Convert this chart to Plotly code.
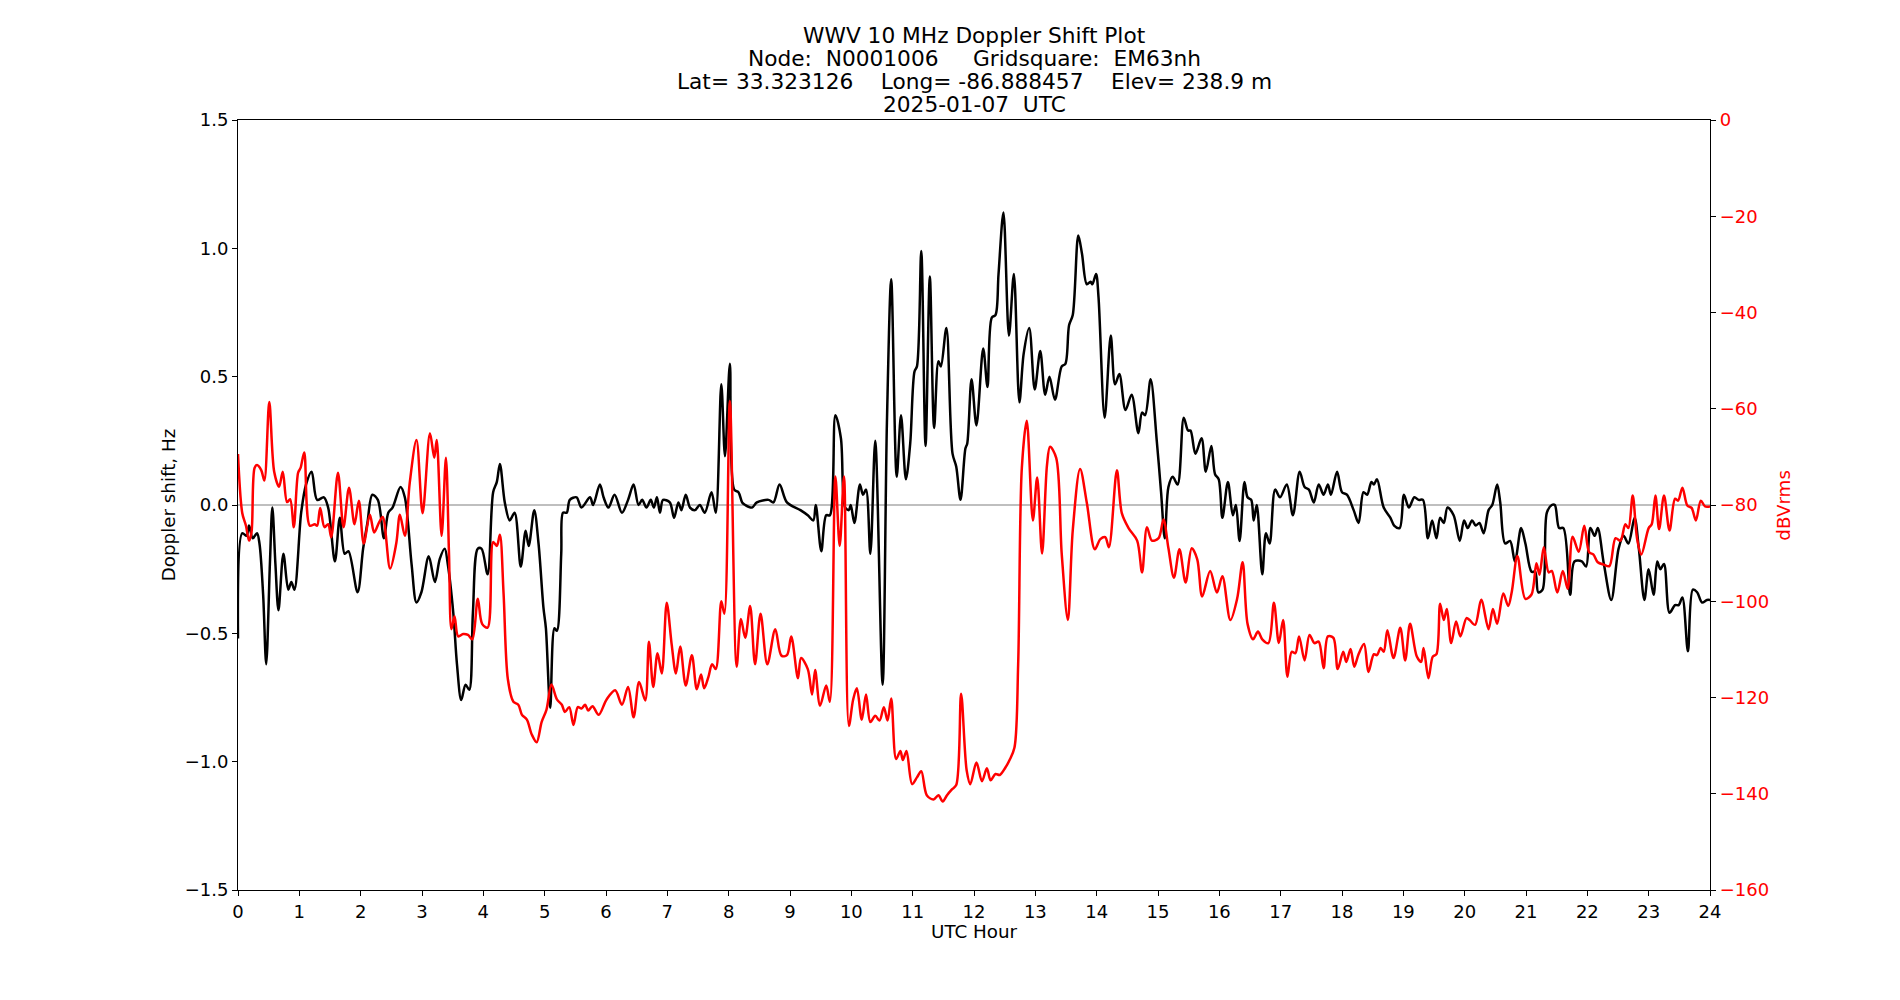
import plotly.graph_objects as go

# ---------------- data ----------------
doppler_hours = [
    0.00, 0.07, 0.14, 0.18, 0.24, 0.31, 0.35, 0.41, 0.46, 0.52, 0.56, 0.61, 0.66, 0.74, 0.82, 0.87, 0.92,
    1.03, 1.11, 1.20, 1.29, 1.40, 1.47, 1.58, 1.66, 1.74, 1.80, 1.95, 2.04, 2.11, 2.19, 2.28, 2.38, 2.45,
    2.52, 2.65, 2.72, 2.83, 2.91, 2.99, 3.11, 3.21, 3.29, 3.37, 3.42, 3.51, 3.57, 3.64, 3.71, 3.77, 3.83,
    3.91, 3.97, 4.07, 4.16, 4.22, 4.27, 4.35, 4.43, 4.51, 4.61, 4.69, 4.74, 4.83, 4.90, 4.98, 5.02, 5.09,
    5.16, 5.20, 5.27, 5.30, 5.36, 5.41, 5.52, 5.60, 5.74, 5.79, 5.90, 5.96, 6.04, 6.14, 6.26, 6.36, 6.45,
    6.53, 6.59, 6.66, 6.73, 6.78, 6.83, 6.88, 6.93, 7.04, 7.11, 7.18, 7.23, 7.30, 7.37, 7.45, 7.53, 7.61,
    7.72, 7.79, 7.88, 7.94, 8.02, 8.09, 8.16, 8.22, 8.27, 8.38, 8.46, 8.65, 8.73, 8.83, 8.95, 9.17, 9.29,
    9.38, 9.42, 9.51, 9.59, 9.65, 9.74, 9.83, 9.90, 9.96, 9.99, 10.05, 10.14, 10.19, 10.24, 10.31, 10.39,
    10.51, 10.58, 10.65, 10.74, 10.81, 10.89, 10.96, 11.03, 11.07, 11.14, 11.21, 11.28, 11.35, 11.42,
    11.46, 11.55, 11.65, 11.71, 11.78, 11.86, 11.89, 11.96, 12.04, 12.15, 12.22, 12.29, 12.35, 12.40,
    12.48, 12.57, 12.65, 12.74, 12.81, 12.90, 12.99, 13.08, 13.16, 13.23, 13.32, 13.43, 13.49, 13.55,
    13.61, 13.70, 13.76, 13.84, 13.90, 13.93, 13.99, 14.03, 14.13, 14.23, 14.30, 14.37, 14.47, 14.57,
    14.68, 14.74, 14.79, 14.88, 14.98, 15.05, 15.11, 15.17, 15.24, 15.32, 15.42, 15.49, 15.53, 15.61,
    15.71, 15.78, 15.87, 15.93, 15.99, 16.05, 16.14, 16.22, 16.27, 16.33, 16.41, 16.46, 16.52, 16.56,
    16.61, 16.70, 16.76, 16.82, 16.91, 16.99, 17.10, 17.20, 17.31, 17.39, 17.46, 17.54, 17.62, 17.70,
    17.77, 17.82, 17.92, 18.00, 18.08, 18.19, 18.27, 18.35, 18.41, 18.48, 18.52, 18.57, 18.68, 18.79,
    18.85, 18.94, 19.01, 19.09, 19.18, 19.25, 19.32, 19.40, 19.47, 19.54, 19.60, 19.66, 19.72, 19.82,
    19.92, 19.99, 20.05, 20.12, 20.18, 20.24, 20.31, 20.39, 20.45, 20.53, 20.58, 20.66, 20.74, 20.82,
    20.92, 20.99, 21.09, 21.15, 21.20, 21.27, 21.34, 21.42, 21.47, 21.54, 21.61, 21.72, 21.79, 21.91,
    21.98, 22.05, 22.12, 22.17, 22.27, 22.39, 22.51, 22.59, 22.67, 22.77, 22.84, 22.93, 23.00, 23.08,
    23.14, 23.19, 23.25, 23.34, 23.43, 23.49, 23.55, 23.64, 23.72, 23.79, 23.87, 23.95, 24.00,
]
doppler_hz = [
    -0.52, -0.11, -0.12, -0.08, -0.13, -0.11, -0.15, -0.35, -0.62, -0.23, -0.01, -0.23, -0.41, -0.19, -0.33, -0.30, -0.33,
    -0.03, 0.08, 0.13, 0.02, 0.03, -0.01, -0.22, -0.05, -0.19, -0.18, -0.34, -0.17, -0.07, 0.04, 0.02, -0.13, -0.03,
    -0.01, 0.07, 0.03, -0.23, -0.38, -0.34, -0.20, -0.30, -0.21, -0.17, -0.23, -0.42, -0.62, -0.76, -0.70, -0.72, -0.42,
    -0.17, -0.17, -0.27, 0.05, 0.09, 0.16, 0.01, -0.06, -0.03, -0.24, -0.10, -0.16, -0.02, -0.15, -0.40, -0.48, -0.79,
    -0.48, -0.49, -0.19, -0.03, -0.03, 0.02, 0.03, -0.01, 0.03, 0.00, 0.08, 0.03, -0.01, 0.04, -0.03, 0.02, 0.08,
    0.00, 0.02, -0.01, 0.02, -0.01, 0.03, -0.03, 0.02, 0.01, -0.05, 0.01, -0.02, 0.04, -0.01, -0.02, 0.00, -0.03,
    0.05, -0.03, 0.47, 0.19, 0.55, 0.06, 0.05, 0.01, 0.00, -0.01, 0.01, 0.02, 0.01, 0.08, 0.01, -0.02, -0.04,
    -0.06, 0.00, -0.18, -0.04, -0.04, 0.35, 0.26, -0.01, -0.02, 0.00, -0.07, 0.08, 0.04, 0.06, -0.19, 0.25,
    -0.70, 0.32, 0.88, 0.11, 0.35, 0.10, 0.24, 0.52, 0.54, 0.99, 0.23, 0.89, 0.30, 0.56,
    0.54, 0.69, 0.20, 0.15, 0.02, 0.22, 0.24, 0.49, 0.31, 0.61, 0.46, 0.73, 0.74, 0.90,
    1.14, 0.66, 0.90, 0.40, 0.59, 0.69, 0.45, 0.60, 0.43, 0.50, 0.41, 0.54, 0.55, 0.70,
    0.74, 1.05, 0.98, 0.86, 0.87, 0.86, 0.90, 0.81, 0.34, 0.66, 0.47, 0.51, 0.37, 0.43,
    0.28, 0.36, 0.35, 0.49, 0.25, 0.05, -0.13, 0.07, 0.11, 0.08, 0.34, 0.29, 0.29, 0.20,
    0.26, 0.13, 0.23, 0.12, 0.10, -0.05, 0.09, -0.04, 0.00, -0.14, 0.09, 0.03, 0.02, -0.06,
    0.00, -0.27, -0.11, -0.15, 0.06, 0.03, 0.08, -0.04, 0.13, 0.07, 0.06, 0.01, 0.08, 0.04,
    0.08, 0.04, 0.13, 0.05, 0.04, -0.02, -0.07, 0.05, 0.04, 0.09, 0.08, 0.10, -0.01, -0.05,
    -0.08, -0.09, 0.04, -0.01, 0.03, 0.02, 0.02, -0.13, -0.06, -0.13, -0.05, -0.07, -0.01, -0.04,
    -0.14, -0.06, -0.09, -0.06, -0.08, -0.07, -0.11, -0.02, 0.00, 0.08, 0.01, -0.15, -0.14, -0.22,
    -0.09, -0.15, -0.26, -0.26, -0.34, -0.33, -0.03, 0.00, 0.00, -0.09, -0.09, -0.35, -0.22, -0.22,
    -0.24, -0.09, -0.12, -0.09, -0.23, -0.37, -0.17, -0.12, -0.15, -0.05, -0.17, -0.37, -0.25, -0.35,
    -0.22, -0.25, -0.23, -0.42, -0.39, -0.39, -0.36, -0.57, -0.33, -0.34, -0.38, -0.37, -0.37,
]

signal_hours = [
    0.00, 0.07, 0.13, 0.18, 0.22, 0.27, 0.31, 0.38, 0.43, 0.51, 0.59, 0.67, 0.73, 0.80, 0.85, 0.91, 0.98,
    1.02, 1.08, 1.17, 1.25, 1.29, 1.34, 1.41, 1.47, 1.52, 1.63, 1.72, 1.81, 1.90, 1.97, 2.05, 2.15, 2.22,
    2.30, 2.36, 2.48, 2.58, 2.64, 2.72, 2.80, 2.91, 3.01, 3.13, 3.20, 3.24, 3.32, 3.39, 3.44, 3.48, 3.53,
    3.59, 3.67, 3.75, 3.82, 3.91, 3.98, 4.07, 4.16, 4.22, 4.27, 4.33, 4.40, 4.49, 4.57, 4.63, 4.71, 4.79,
    4.87, 4.95, 5.03, 5.11, 5.20, 5.28, 5.33, 5.40, 5.47, 5.54, 5.60, 5.66, 5.71, 5.78, 5.88, 6.01, 6.15,
    6.26, 6.36, 6.45, 6.54, 6.64, 6.70, 6.77, 6.84, 6.91, 6.99, 7.07, 7.14, 7.21, 7.30, 7.40, 7.48, 7.55,
    7.60, 7.67, 7.73, 7.79, 7.88, 7.93, 8.02, 8.13, 8.20, 8.27, 8.35, 8.43, 8.52, 8.63, 8.76, 8.86, 8.95,
    9.02, 9.13, 9.18, 9.29, 9.36, 9.41, 9.49, 9.59, 9.65, 9.74, 9.81, 9.88, 9.96, 10.03, 10.09, 10.17,
    10.24, 10.31, 10.39, 10.46, 10.53, 10.59, 10.65, 10.73, 10.80, 10.84, 10.90, 10.99, 11.07, 11.14,
    11.23, 11.34, 11.42, 11.49, 11.56, 11.64, 11.71, 11.79, 11.88, 11.94, 12.04, 12.13, 12.21, 12.27,
    12.35, 12.42, 12.51, 12.58, 12.66, 12.72, 12.78, 12.86, 12.96, 13.03, 13.11, 13.19, 13.24, 13.34,
    13.43, 13.53, 13.61, 13.73, 13.84, 13.97, 14.06, 14.14, 14.20, 14.33, 14.41, 14.52, 14.66, 14.74,
    14.82, 14.90, 15.01, 15.09, 15.17, 15.26, 15.35, 15.45, 15.55, 15.64, 15.72, 15.85, 15.96, 16.05,
    16.18, 16.29, 16.38, 16.46, 16.55, 16.63, 16.70, 16.80, 16.89, 16.97, 17.04, 17.11, 17.18, 17.24,
    17.30, 17.39, 17.47, 17.55, 17.62, 17.70, 17.77, 17.86, 17.93, 18.02, 18.07, 18.14, 18.20, 18.27,
    18.36, 18.43, 18.52, 18.57, 18.63, 18.68, 18.74, 18.84, 18.95, 19.03, 19.11, 19.22, 19.29, 19.33,
    19.41, 19.48, 19.54, 19.60, 19.66, 19.71, 19.78, 19.86, 19.93, 20.03, 20.08, 20.17, 20.27, 20.39,
    20.46, 20.53, 20.63, 20.71, 20.77, 20.86, 20.99, 21.09, 21.17, 21.22, 21.29, 21.37, 21.42, 21.51,
    21.60, 21.68, 21.76, 21.86, 21.95, 22.03, 22.10, 22.17, 22.27, 22.36, 22.46, 22.54, 22.62, 22.67,
    22.74, 22.81, 22.88, 23.00, 23.05, 23.11, 23.17, 23.25, 23.34, 23.43, 23.48, 23.55, 23.63, 23.70,
    23.77, 23.85, 23.92, 24.00,
]
signal_dbv = [
    -69.4, -81.7, -84.3, -87.4, -85.7, -72.3, -71.7, -72.8, -74.9, -58.6, -73.1, -76.2, -73.1, -79.4, -78.8, -84.6, -73.3,
    -72.3, -69.1, -84.3, -84.0, -84.3, -80.6, -84.6, -84.0, -86.7, -73.3, -84.6, -76.4, -84.0, -79.1, -88.0, -82.0, -85.7,
    -83.6, -82.5, -93.2, -88.0, -82.0, -86.4, -75.4, -66.5, -81.7, -65.1, -70.2, -66.5, -86.4, -70.2, -90.1, -105.8, -103.1,
    -107.3, -106.8, -107.0, -107.9, -99.5, -104.7, -105.5, -87.7, -88.5, -86.2, -98.4, -116.2, -120.9, -121.5, -123.6, -124.6, -127.7,
    -129.3, -125.1, -122.5, -117.3, -120.4, -121.5, -123.0, -122.0, -125.7, -122.0, -122.3, -121.5, -122.7, -121.8, -123.6, -120.4, -118.5,
    -121.5, -117.8, -124.1, -116.8, -120.6, -108.4, -117.8, -110.8, -115.0, -100.3, -108.9, -115.0, -109.4, -117.5, -111.2, -118.3, -115.2,
    -118.1, -115.7, -113.1, -114.1, -100.0, -102.6, -58.4, -113.6, -103.7, -107.6, -101.0, -113.1, -102.6, -113.1, -105.8, -111.3, -111.2,
    -107.3, -116.0, -111.8, -114.1, -119.4, -114.3, -121.7, -117.5, -120.9, -74.1, -88.5, -74.1, -125.9, -120.4, -118.1, -124.6,
    -119.4, -125.1, -123.8, -124.8, -122.0, -124.8, -120.2, -132.8, -131.1, -133.0, -131.1, -138.0, -136.6, -135.3,
    -140.3, -141.2, -140.3, -141.6, -140.3, -139.1, -138.2, -119.2, -135.1, -138.0, -133.5, -137.4, -134.7, -137.2,
    -135.9, -136.1, -134.6, -133.0, -130.4, -113.1, -72.3, -62.5, -83.2, -74.3, -90.1, -71.7, -67.9, -70.2,
    -90.1, -103.9, -85.3, -72.5, -79.6, -89.2, -87.1, -86.7, -88.8, -72.8, -81.7, -84.8, -87.4, -94.0,
    -84.6, -87.4, -86.9, -83.0, -89.0, -95.1, -89.2, -96.1, -89.0, -91.3, -99.0, -93.7, -98.2, -94.8,
    -103.9, -99.5, -91.9, -104.7, -107.9, -106.3, -107.9, -108.7, -100.3, -108.7, -103.9, -115.7, -110.5, -110.8,
    -107.3, -112.3, -107.0, -108.7, -108.4, -113.9, -107.3, -107.6, -114.1, -110.5, -112.6, -109.9, -113.6, -111.0,
    -108.9, -114.7, -111.0, -111.2, -109.7, -110.5, -106.0, -111.8, -105.5, -112.3, -104.7, -111.5, -112.6, -109.7,
    -116.0, -111.5, -111.0, -100.5, -103.9, -101.6, -108.7, -104.2, -107.3, -103.5, -103.9, -104.9, -99.7, -105.8,
    -101.6, -104.7, -98.4, -101.0, -97.9, -90.6, -99.5, -98.6, -92.1, -94.5, -88.8, -94.0, -93.7, -98.2,
    -93.7, -97.4, -86.6, -89.7, -84.3, -89.8, -90.3, -91.9, -92.4, -92.7, -86.9, -87.4, -84.0, -84.8,
    -78.0, -86.9, -90.3, -84.8, -84.0, -78.0, -85.0, -78.0, -85.3, -78.7, -79.1, -76.4, -80.1, -80.6,
    -83.2, -79.1, -80.3, -80.3,
]

x_ticks = list(range(0, 25))
left_ticks = [-1.5, -1.0, -0.5, 0.0, 0.5, 1.0, 1.5]
right_ticks = [-160, -140, -120, -100, -80, -60, -40, -20, 0]

title_lines = [
    "WWV 10 MHz Doppler Shift Plot",
    "Node:  N0001006     Gridsquare:  EM63nh",
    "Lat= 33.323126    Long= -86.888457    Elev= 238.9 m",
    "2025-01-07  UTC",
]

# ---------------- figure ----------------
FONT = "DejaVu Sans"
W, H = 1900, 1000
L, R, T, B = 238, 190, 120, 110
plot_h = H - T - B
TICK_SIZE = 18
LABEL_SIZE = 18.3
TITLE_SIZE = 21.7

fig = go.Figure()
fig.add_trace(go.Scatter(
    x=doppler_hours, y=doppler_hz, mode="lines",
    line=dict(color="black", width=2.5, shape="spline", smoothing=0.9),
    yaxis="y", hoverinfo="skip", showlegend=False,
))
fig.add_trace(go.Scatter(
    x=signal_hours, y=signal_dbv, mode="lines",
    line=dict(color="red", width=2.5, shape="spline", smoothing=0.9),
    yaxis="y2", hoverinfo="skip", showlegend=False,
))

# zero reference line
fig.add_shape(type="line", xref="x", yref="y", x0=0, x1=24, y0=0, y1=0,
              line=dict(color="#808080", width=1.2), layer="below")

axis_common = dict(showgrid=False, zeroline=False, showline=True, linecolor="black", linewidth=1.1,
                   ticks="outside", ticklen=5, tickwidth=1.1, tickcolor="black")

fig.update_layout(
    width=W, height=H,
    margin=dict(l=L, r=R, t=T, b=B, pad=0),
    paper_bgcolor="white", plot_bgcolor="white",
    font=dict(family=FONT, size=LABEL_SIZE, color="black"),
    xaxis=dict(range=[0, 24], tickvals=x_ticks, ticktext=[str(v) for v in x_ticks],
               mirror=True, tickfont=dict(size=TICK_SIZE), **axis_common),
    yaxis=dict(range=[-1.5, 1.5], tickvals=left_ticks, tickformat=".1f",
               tickfont=dict(size=TICK_SIZE), **axis_common),
    yaxis2=dict(range=[-160, 0], tickvals=right_ticks, overlaying="y", side="right",
                tickfont=dict(size=TICK_SIZE, color="red"), **axis_common),
)

# title lines (centred over the plot area)
title_centres_px = [35.5, 58.5, 81.5, 104.5]
for txt, yc in zip(title_lines, title_centres_px):
    fig.add_annotation(text=txt, xref="paper", yref="paper", x=0.5,
                       y=(H - B - yc) / plot_h, xanchor="center", yanchor="middle",
                       showarrow=False, font=dict(family=FONT, size=TITLE_SIZE, color="black"))

# axis titles
fig.add_annotation(text="UTC Hour", xref="paper", yref="paper", x=0.5,
                   y=(H - B - 931.7) / plot_h, xanchor="center", yanchor="middle",
                   showarrow=False, font=dict(family=FONT, size=LABEL_SIZE, color="black"))
fig.add_annotation(text="Doppler shift, Hz", xref="paper", yref="paper",
                   x=(168.3 - L) / (W - L - R), y=0.5, xanchor="center", yanchor="middle",
                   textangle=-90, showarrow=False, font=dict(family=FONT, size=LABEL_SIZE, color="black"))
fig.add_annotation(text="dBVrms", xref="paper", yref="paper",
                   x=(1782.7 - L) / (W - L - R), y=0.5, xanchor="center", yanchor="middle",
                   textangle=-90, showarrow=False, font=dict(family=FONT, size=LABEL_SIZE, color="red"))

fig.write_html("out.html")
